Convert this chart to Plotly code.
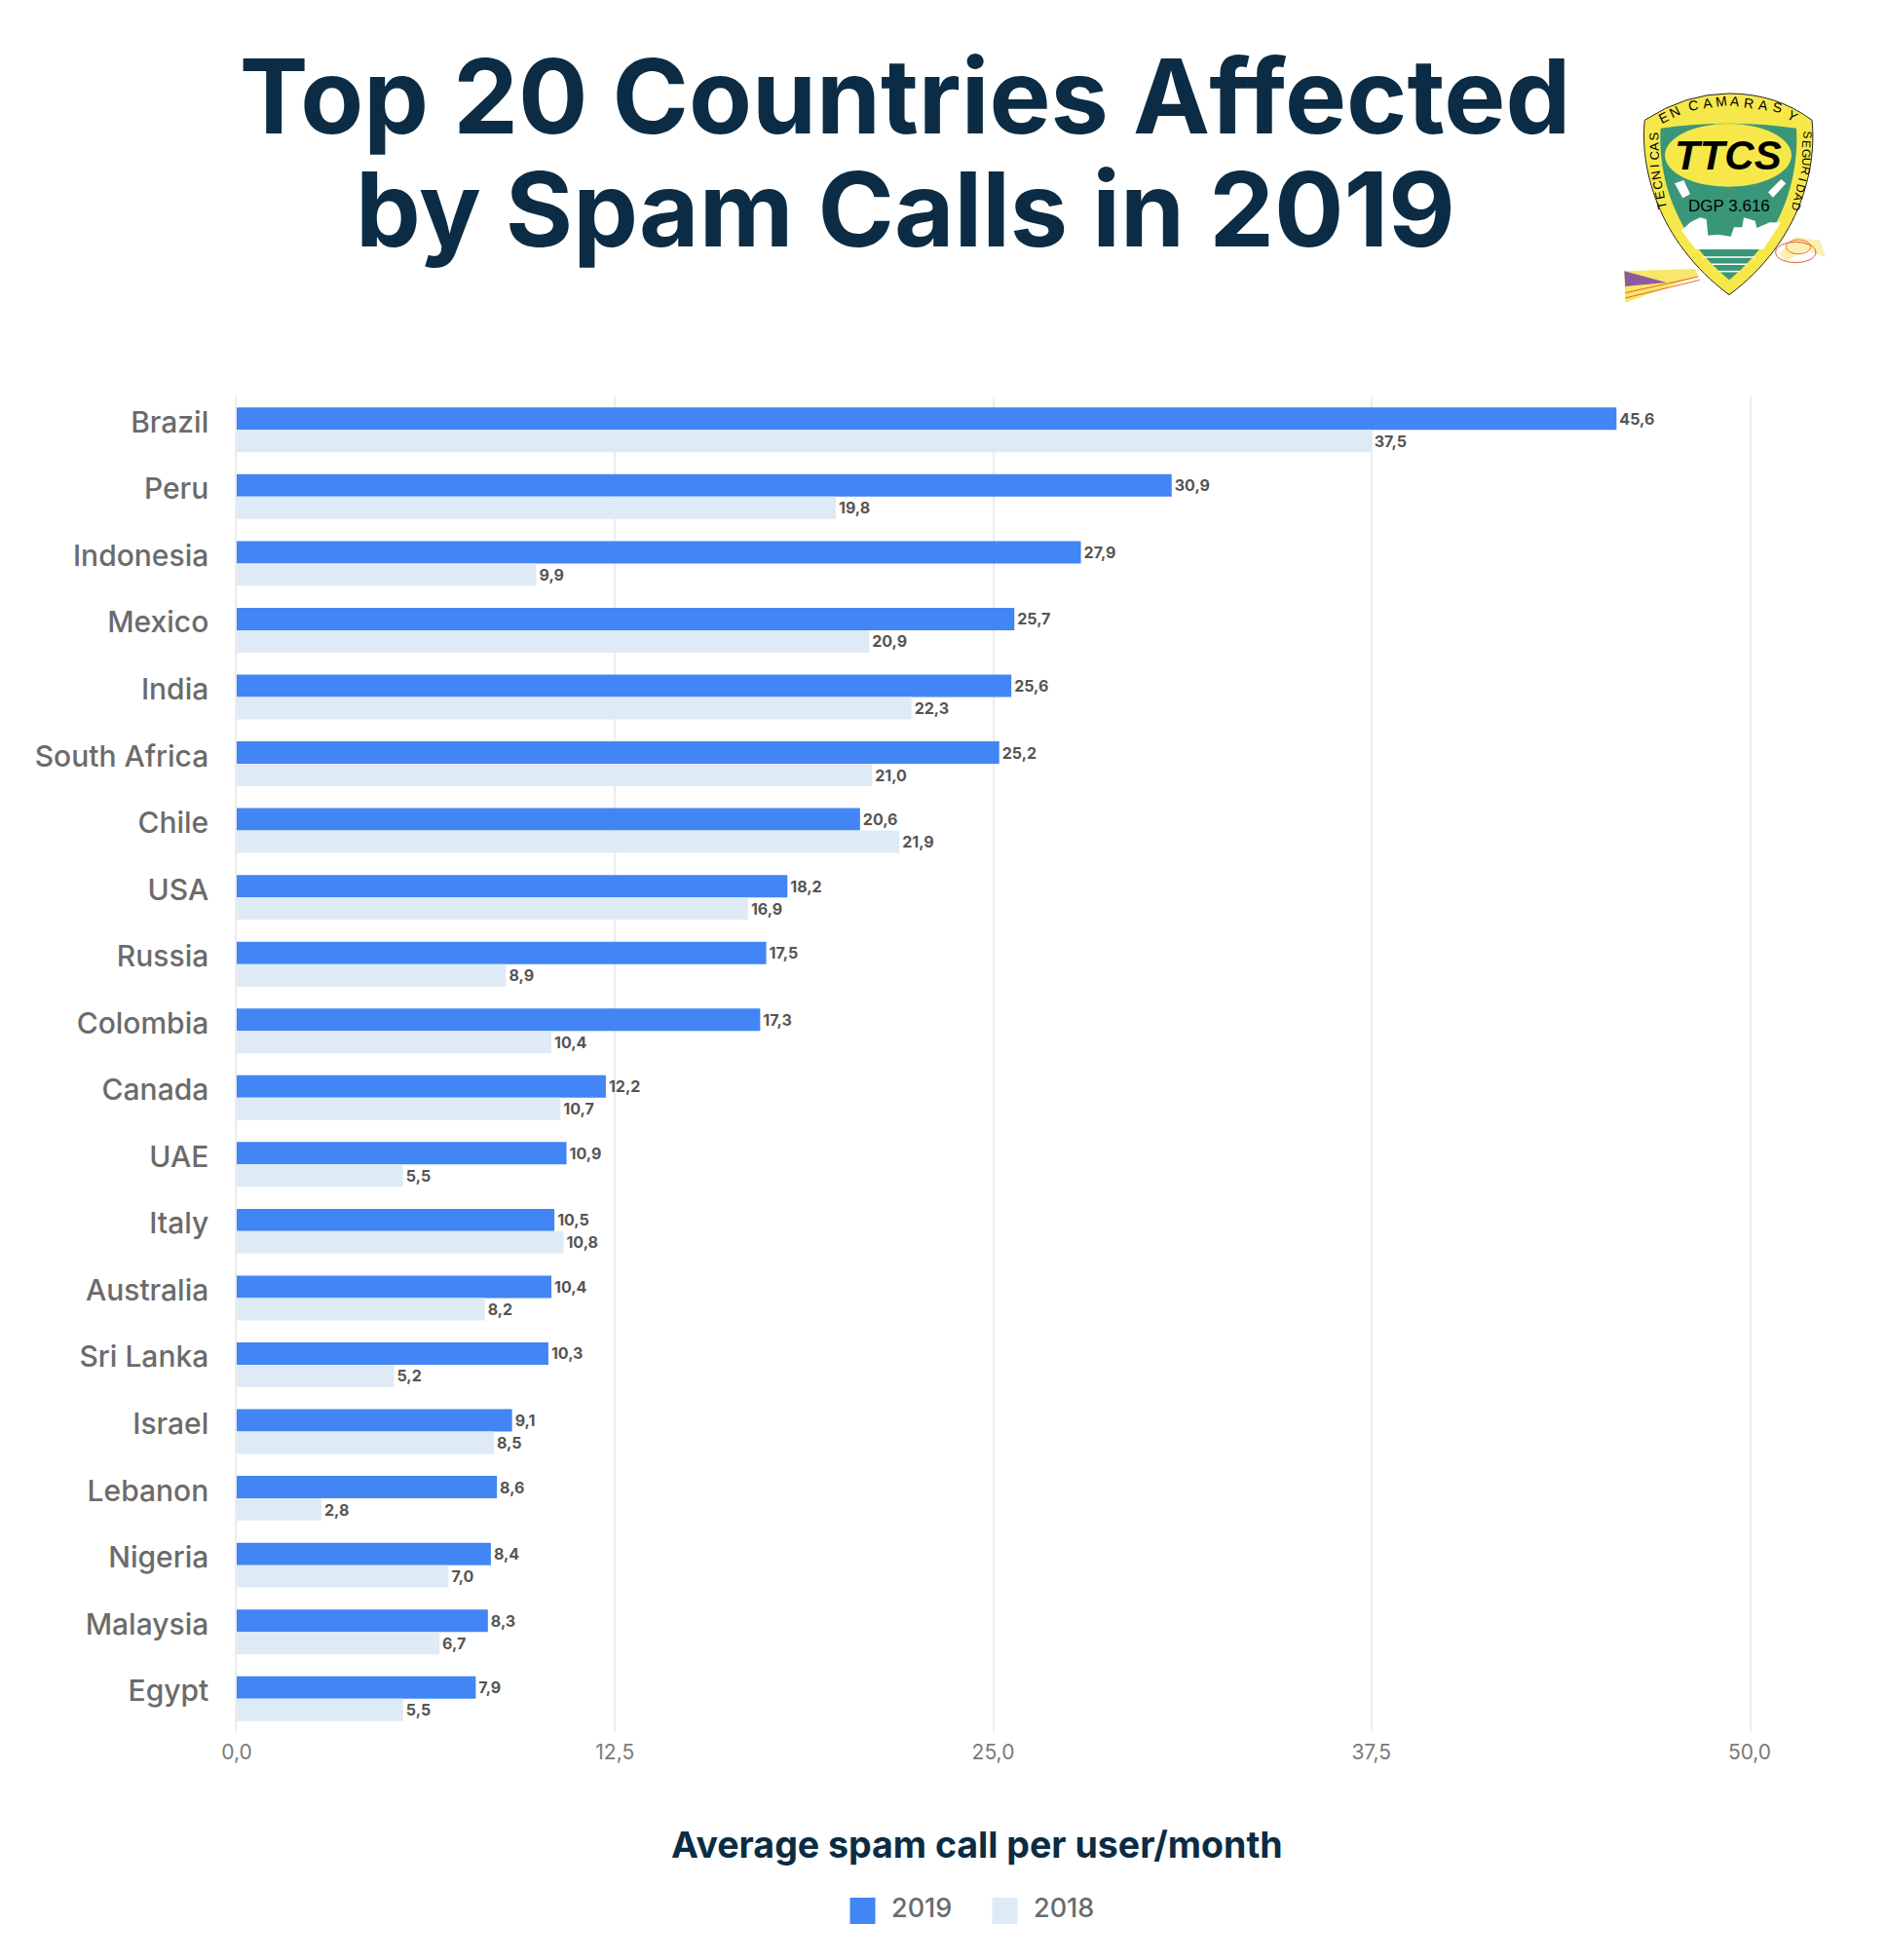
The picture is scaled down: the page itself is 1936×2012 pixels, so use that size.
import math
import plotly.graph_objects as go

countries = ["Brazil", "Peru", "Indonesia", "Mexico", "India", "South Africa", "Chile", "USA", "Russia", "Colombia",
             "Canada", "UAE", "Italy", "Australia", "Sri Lanka", "Israel", "Lebanon", "Nigeria", "Malaysia", "Egypt"]
values_2019 = [45.6, 30.9, 27.9, 25.7, 25.6, 25.2, 20.6, 18.2, 17.5, 17.3,
               12.2, 10.9, 10.5, 10.4, 10.3, 9.1, 8.6, 8.4, 8.3, 7.9]
values_2018 = [37.5, 19.8, 9.9, 20.9, 22.3, 21.0, 21.9, 16.9, 8.9, 10.4,
               10.7, 5.5, 10.8, 8.2, 5.2, 8.5, 2.8, 7.0, 6.7, 5.5]
tick_values = [0, 12.5, 25, 37.5, 50]

W, H = 1936, 2012
L, R, T, B = 243, 1796, 407, 1778
FONT = "Inter, 'Open Sans', sans-serif"
NAVY = "#0b2c44"
GREY = "#6b6b6b"


def px(x, y):
    return (x - L) / (R - L), (B - y) / (B - T)


def z(zx, zy):
    """Logo crop coordinates to paper coordinates."""
    return px(1620 + zx / 3, 60 + zy / 3)


def poly(points, fill, line=None, width=0, close=True):
    parts = []
    for i, p in enumerate(points):
        x, y = z(*p)
        parts.append(f"{'M' if i == 0 else 'L'}{x:.5f},{y:.5f}")
    return dict(type="path", xref="paper", yref="paper", path=" ".join(parts) + (" Z" if close else ""),
                fillcolor=fill if close else "rgba(0,0,0,0)",
                line=dict(color=line or "rgba(0,0,0,0)", width=width), layer="above")


def curve(spec, fill, line=None, width=0, close=True):
    """spec: list of (cmd, points...) with logo crop coordinates."""
    parts = []
    for cmd, *pts in spec:
        coords = " ".join("{:.5f},{:.5f}".format(*z(*p)) for p in pts)
        parts.append(cmd + coords)
    return dict(type="path", xref="paper", yref="paper", path=" ".join(parts) + (" Z" if close else ""),
                fillcolor=fill if close else "rgba(0,0,0,0)",
                line=dict(color=line or "rgba(0,0,0,0)", width=width), layer="above")


def ellipse(cx, cy, rx, ry, fill, line=None, width=0):
    x0, y0 = z(cx - rx, cy - ry)
    x1, y1 = z(cx + rx, cy + ry)
    return dict(type="circle", xref="paper", yref="paper", x0=x0, y0=y0, x1=x1, y1=y1,
                fillcolor=fill, line=dict(color=line or "rgba(0,0,0,0)", width=width), layer="above")


shapes = []
# swooshes behind the shield
shapes.append(poly([(142, 655), (360, 648), (370, 670), (145, 752)], "#f7e76a"))
shapes.append(poly([(145, 722), (370, 672)], "", "#e8622a", 1, close=False))
shapes.append(poly([(145, 738), (375, 682)], "", "#e8622a", 1, close=False))
shapes.append(poly([(142, 655), (272, 690), (145, 702)], "#8e5a9e"))
shapes.append(poly([(620, 600), (670, 550), (745, 560), (762, 612), (700, 590), (640, 625)], "#fbf0b0"))
shapes.append(ellipse(678, 580, 38, 22, "rgba(0,0,0,0)", "#e8762a", 1))
shapes.append(ellipse(670, 597, 62, 32, "rgba(0,0,0,0)", "#d9603a", 1))
# shield
shapes.append(curve([("M", (205, 190)), ("Q", (330, 108), (465, 108)), ("Q", (610, 108), (720, 190)),
                     ("C", (735, 330), (690, 560), (465, 728)), ("C", (240, 560), (190, 330), (205, 190))],
                    "#f6e84a", "#222222", 1))
shapes.append(curve([("M", (254, 215)), ("Q", (360, 200), (465, 200)), ("Q", (570, 200), (672, 215)),
                     ("C", (680, 350), (640, 540), (465, 682)), ("C", (290, 540), (245, 350), (254, 215))],
                    "#3a9678"))
# skyline
shapes.append(poly([(318, 530), (345, 505), (375, 490), (395, 495), (400, 545), (430, 542), (470, 548),
                    (480, 520), (505, 520), (510, 490), (545, 500), (550, 522), (590, 505), (625, 505),
                    (570, 588), (362, 588)], "#ffffff"))
# water stripes
for stripe in ([(385, 612), (545, 612)], [(410, 634), (520, 634)], [(432, 656), (498, 656)]):
    shapes.append(poly(stripe, "", "#ffffff", 1.5, close=False))
# yellow oval
shapes.append(ellipse(462, 298, 195, 97, "#f6e84a"))
# cameras
shapes.append(poly([(297, 385), (325, 375), (345, 418), (322, 430)], "#ffffff"))
shapes.append(poly([(625, 372), (640, 385), (600, 428), (585, 412)], "#ffffff"))
annotations = []


def logo_text(text, zx, zy, size, color="#000000", family="'Liberation Sans', Arial, sans-serif", angle=0):
    x, y = z(zx, zy)
    annotations.append(dict(text=text, x=x, y=y, xref="paper", yref="paper", showarrow=False,
                            xanchor="center", yanchor="middle", textangle=angle,
                            font=dict(size=size, color=color, family=family)))


def along(text, path, size=15):
    lens = [math.dist(path[i], path[i + 1]) for i in range(len(path) - 1)]
    total = sum(lens)
    n = len(text)
    for k, ch in enumerate(text):
        d = total * k / max(n - 1, 1)
        i = 0
        while i < len(lens) - 1 and d > lens[i]:
            d -= lens[i]
            i += 1
        t = d / lens[i]
        a, b = path[i], path[i + 1]
        cx, cy = a[0] + (b[0] - a[0]) * t, a[1] + (b[1] - a[1]) * t
        ang = math.degrees(math.atan2(b[1] - a[1], b[0] - a[0]))
        if ch != " ":
            logo_text(ch, cx, cy, size, angle=ang)


along("TECNICAS", [(258, 452), (236, 340), (232, 240)], size=13)
along("EN", [(262, 182), (296, 165)], size=14)
along("CAMARAS", [(355, 145), (465, 130), (612, 150)], size=14)
along("Y", [(660, 178), (690, 198)], size=14)
along("SEGURIDAD", [(705, 235), (700, 340), (672, 455)], size=12)
logo_text("<b><i>TTCS</i></b>", 462, 298, 42)
logo_text("DGP 3.616", 466, 456, 17)

# second title line: the native title's line height is larger than the reference's
tx, ty = px(929, 215)
annotations.append(dict(text="<b>by Spam Calls in 2019</b>", x=tx, y=ty, xref="paper", yref="paper",
                        showarrow=False, xanchor="center", yanchor="middle",
                        font=dict(size=106, color=NAVY, family=FONT)))
# axis title sits left of the plot centre in the reference
ax, ay = px(1003, 1893)
annotations.append(dict(text="<b>Average spam call per user/month</b>", x=ax, y=ay, xref="paper", yref="paper",
                        showarrow=False, xanchor="center", yanchor="middle",
                        font=dict(size=37.5, color=NAVY, family=FONT)))

fig = go.Figure()
fig.add_bar(name="2019", y=countries, x=values_2019, orientation="h", marker=dict(color="#4285f4", line_width=0),
            texttemplate="<b>%{x:.1f}</b>", textposition="outside", cliponaxis=False,
            textfont=dict(size=16, color="#555555", family=FONT))
fig.add_bar(name="2018", y=countries, x=values_2018, orientation="h", marker=dict(color="#dfeaf7", line_width=0),
            texttemplate="<b>%{x:.1f}</b>", textposition="outside", cliponaxis=False,
            textfont=dict(size=16, color="#555555", family=FONT))

fig.update_layout(
    width=W, height=H, margin=dict(l=L, r=W - R, t=T, b=H - B),
    paper_bgcolor="#ffffff", plot_bgcolor="#ffffff",
    barmode="group", bargap=0.33, bargroupgap=0.0, separators=",.",
    font=dict(family=FONT, color=GREY),
    title=dict(text="<b>Top 20 Countries Affected</b>",
               x=929 / W, xref="container", xanchor="center", y=1 - 100 / H, yref="container", yanchor="middle",
               font=dict(size=106, color=NAVY, family=FONT)),
    xaxis=dict(range=[0, 50], tickvals=tick_values, tickformat=".1f", side="bottom",
               showgrid=True, gridcolor="#ececec", gridwidth=1.5, zeroline=False, showline=False, ticks="",
               ticklabelstandoff=6,
               tickfont=dict(size=21, color="#7a7a7a")),
    yaxis=dict(autorange="reversed", showgrid=False, showline=True, linecolor="#ececec", linewidth=1.5, mirror=True,
               ticks="", ticklen=0, ticklabelstandoff=21, ticklabelshift=8,
               tickfont=dict(size=30, color=GREY, weight=500)),
    legend=dict(orientation="h", x=(865 - L) / (R - L), xanchor="left", xref="paper",
                y=(B - 1958) / (B - T), yanchor="middle", yref="paper", traceorder="normal",
                font=dict(size=27, color=GREY, weight=500), itemwidth=40, entrywidth=91, entrywidthmode="pixels",
                bgcolor="rgba(0,0,0,0)"),
    shapes=shapes, annotations=annotations,
)

post = """
document.body.style.margin='0';
var gd=document.querySelector('.plotly-graph-div');
function fix(){gd.querySelectorAll('.legend .legendpoints path').forEach(function(p){
 p.setAttribute('d','m8.5,17.5H-17.5V-9.5H8.5Z');});}
fix();gd.on('plotly_afterplot',fix);[50,200,500,1000].forEach(function(t){setTimeout(fix,t);});
"""
fig.write_html("out.html", post_script=post, config=dict(displayModeBar=False))
